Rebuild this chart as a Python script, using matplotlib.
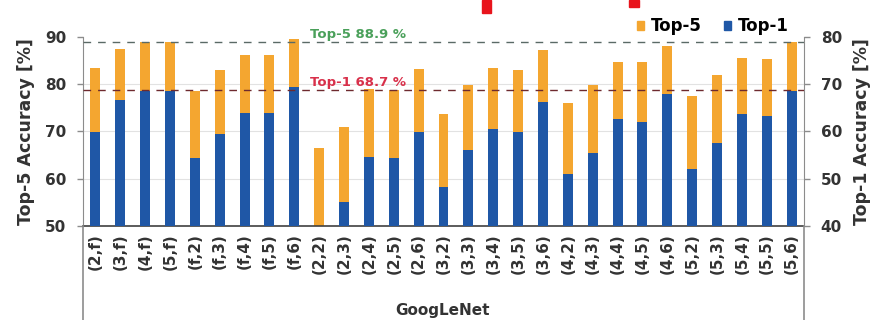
import matplotlib
matplotlib.use("Agg")
import matplotlib.pyplot as plt
import numpy as np
from matplotlib.patches import Rectangle
from matplotlib.lines import Line2D

plt.rcParams['font.family'] = ['DejaVu Sans']
plt.rcParams['font.weight'] = 'bold'

configs = ["(2,f)", "(3,f)", "(4,f)", "(5,f)", "(f,2)", "(f,3)", "(f,4)", "(f,5)", "(f,6)",
           "(2,2)", "(2,3)", "(2,4)", "(2,5)", "(2,6)",
           "(3,2)", "(3,3)", "(3,4)", "(3,5)", "(3,6)",
           "(4,2)", "(4,3)", "(4,4)", "(4,5)", "(4,6)",
           "(5,2)", "(5,3)", "(5,4)", "(5,5)", "(5,6)"]
top5 = [83.4, 87.4, 89.0, 89.0, 78.6, 83.1, 86.1, 86.1, 89.5,
        66.5, 71.0, 79.1, 78.7, 83.3,
        73.8, 79.8, 83.4, 83.1, 87.3,
        76.1, 79.9, 84.8, 84.8, 88.2,
        77.5, 81.9, 85.5, 85.4, 88.9]
top1 = [59.9, 66.6, 68.5, 68.5, 54.3, 59.4, 64.0, 64.0, 69.4,
        40.0, 45.1, 54.6, 54.3, 59.9,
        48.3, 56.0, 60.5, 59.9, 66.2,
        50.9, 55.5, 62.6, 62.0, 68.0,
        52.0, 57.6, 63.8, 63.3, 68.5]
baseline_top5 = 88.9
baseline_top1 = 68.7
group_name = "GoogLeNet"

ORANGE = "#F4A630"
BLUE = "#1F57A6"
TXT = "#333333"
AX = "#8c8c8c"

fig = plt.figure(figsize=(8.76, 3.2), dpi=100)
W, H = 876, 320
left, right, top, bottom = 83, 804, 37, 226
ax = fig.add_axes([left / W, 1 - bottom / H, (right - left) / W, (bottom - top) / H])
ax2 = ax.twinx()

x = np.arange(len(configs))
bw = 0.4

ax.bar(x, np.array(top5) - 50, bottom=50, width=bw, color=ORANGE, zorder=2)
ax.set_ylim(50, 90)
ax.set_xlim(-0.5, len(configs) - 0.5)
ax.set_yticks([50, 60, 70, 80, 90])
for g in [60, 70, 80]:
    ax.axhline(g, color="#e2e2e2", lw=0.8, zorder=0)

ax2.bar(x, np.array(top1) - 40, bottom=40, width=bw, color=BLUE, zorder=2)
ax2.set_ylim(40, 80)
ax2.set_yticks([40, 50, 60, 70, 80])

# reference levels (drawn in Top-1 coordinates: left axis = right axis + 10)
ax2.axhline(baseline_top5 - 10, color="#5a6a66", lw=1.0, ls=(0, (5.5, 5)), zorder=3)
ax2.axhline(baseline_top1, color="#6e2a2e", lw=1.0, ls=(0, (5.5, 5)), zorder=3)
ax2.text(8.65, baseline_top5 - 10 + 0.3, f"Top-5 {baseline_top5} %", color="#4aa05a",
         fontsize=9.5, fontweight='bold', ha='left', va='bottom', zorder=4)
ax2.text(8.65, baseline_top1 + 0.3, f"Top-1 {baseline_top1} %", color="#d8304a",
         fontsize=9.5, fontweight='bold', ha='left', va='bottom', zorder=4)

ax.set_xticks(x)
ax.set_xticklabels(configs, rotation=90, fontsize=11, fontweight='bold', color=TXT)
ax.tick_params(axis='x', length=0, pad=5)
for a in (ax, ax2):
    a.tick_params(axis='y', labelsize=11, labelcolor=TXT, color=AX, length=4, width=1, pad=8)
    for lbl in a.get_yticklabels():
        lbl.set_fontweight('bold')
    for s in a.spines.values():
        s.set_visible(False)
ax.spines['bottom'].set_visible(True)
ax.spines['bottom'].set_color("#404040")
ax.spines['bottom'].set_linewidth(1.2)
ax.spines['left'].set_visible(True)
ax.spines['left'].set_color(AX)
ax2.spines['right'].set_visible(True)
ax2.spines['right'].set_color(AX)

ax.set_ylabel("Top-5 Accuracy [%]", fontsize=12.5, fontweight='bold', color=TXT, labelpad=7)
ax2.set_ylabel("Top-1 Accuracy [%]", fontsize=12.5, fontweight='bold', color=TXT, labelpad=8)

# group bracket below the category labels
for px in (left, right):
    fig.add_artist(Line2D([px / W, px / W], [0, 1 - bottom / H], color=AX, lw=1.2))
fig.text(443 / W, 1 - 311 / H, group_name, fontsize=11, fontweight='bold', color=TXT,
         ha='center', va='center')

# legend
handles = [Rectangle((0, 0), 1, 1, color=ORANGE), Rectangle((0, 0), 1, 1, color=BLUE)]
fig.legend(handles, ["Top-5", "Top-1"], loc='center right', bbox_to_anchor=(797 / W, 1 - 26 / H),
           ncol=2, frameon=False, handlelength=0.45, handleheight=0.45,
           handletextpad=0.4, columnspacing=1.3, borderpad=0, prop={'weight': 'bold', 'size': 12})

# red markers along the top edge
fig.add_artist(Rectangle((482 / W, 1 - 13 / H), 9 / W, 13 / H, color="#e8141c"))
fig.add_artist(Rectangle((629 / W, 1 - 7 / H), 10 / W, 7 / H, color="#e8141c"))

fig.savefig("out.png", dpi=100)
